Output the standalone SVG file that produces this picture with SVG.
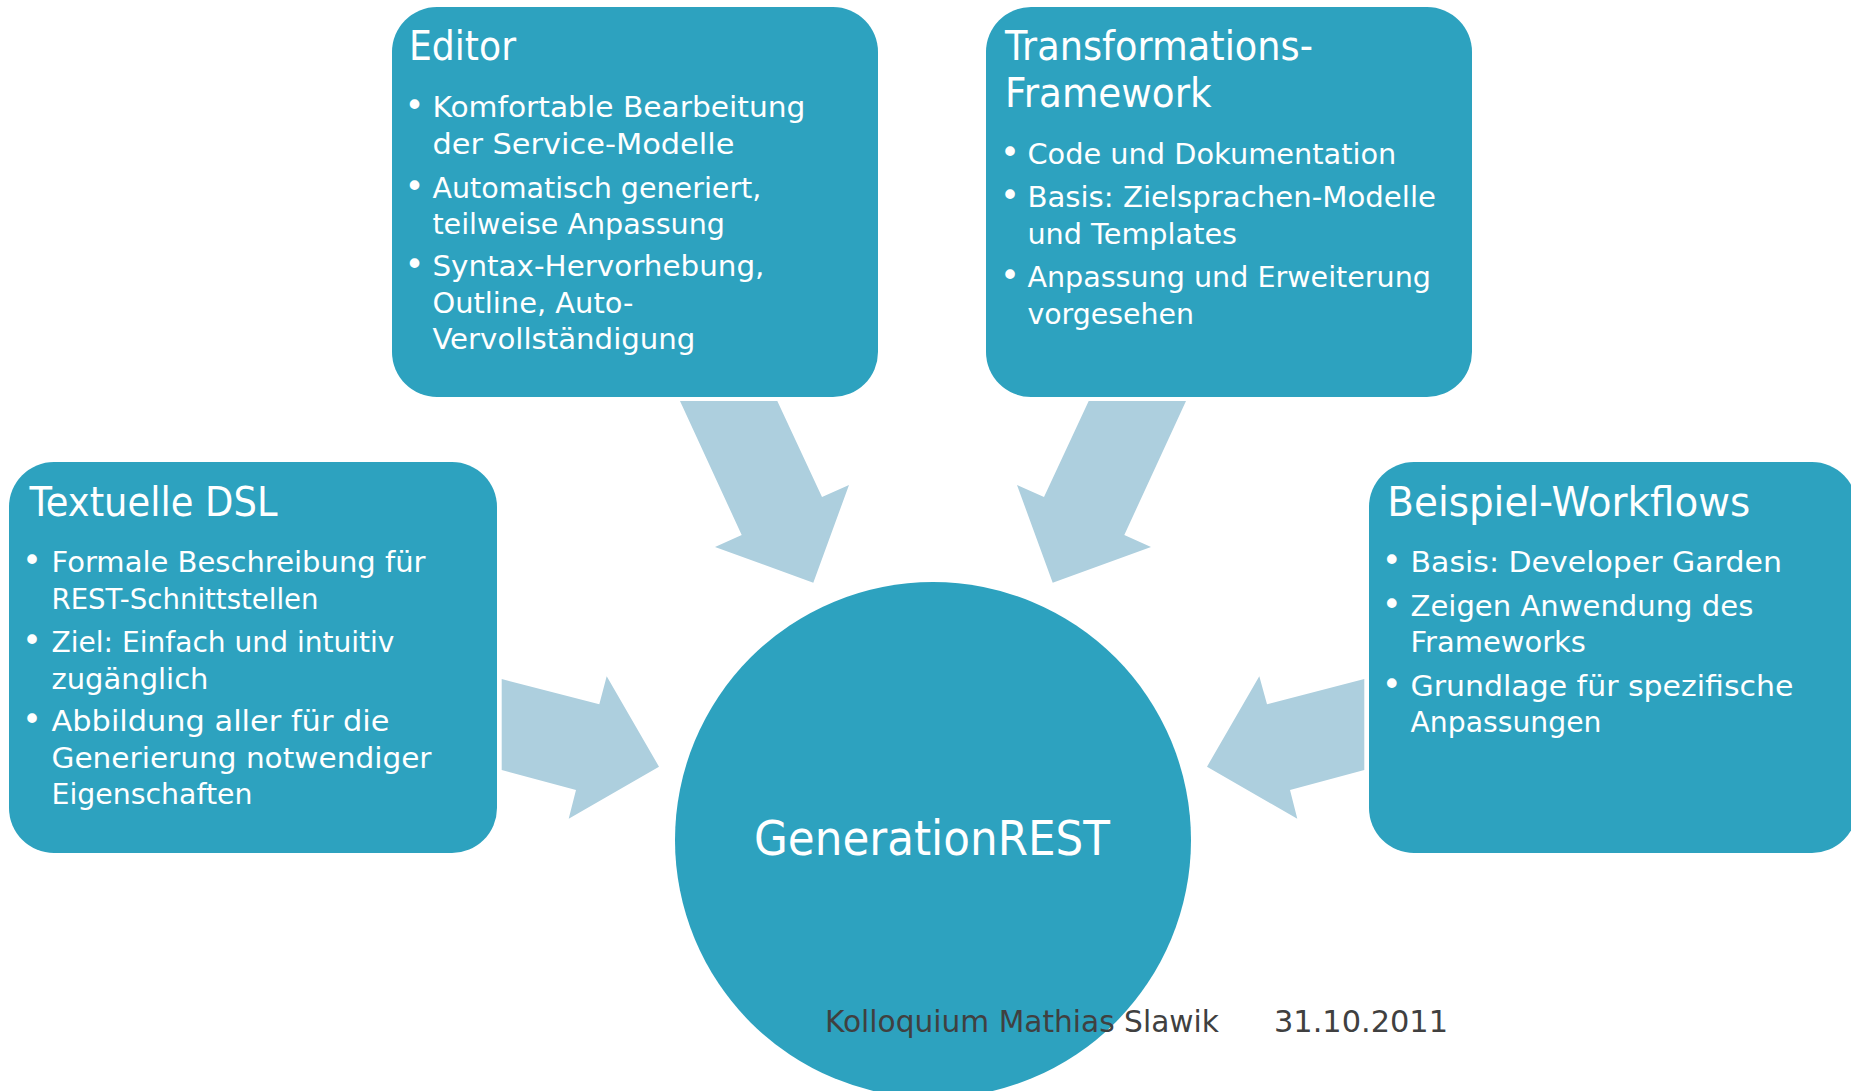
<svg xmlns="http://www.w3.org/2000/svg" width="1851" height="1091" viewBox="0 0 1851 1091">
  <style>
    .box { fill: #2da2bf; }
    .arrow { fill: #adcfde; }
    .t { font-family: "DejaVu Sans", "Liberation Sans", sans-serif; fill: #ffffff; }
    .title { font-size: 40px; }
    .item { font-size: 28.5px; }
    .dot { font-size: 33px; text-anchor: middle; }
    .hub { font-size: 48px; }
    .foot { font-family: "DejaVu Sans", "Liberation Sans", sans-serif; font-size: 31px; fill: #404040; }
  </style>

  <rect width="1851" height="1091" fill="#ffffff"/>

  <!-- block arrows pointing into the hub -->
  <g id="connectors">
    <polygon class="arrow" points="680,401 777.3,401 822,497 849,485 813.3,582.7 715,547 741.7,535"/>
    <polygon class="arrow" points="1186,401 1088.7,401 1044,497 1017,485 1052.7,582.7 1151,547 1124.3,535"/>
    <polygon class="arrow" points="501.7,679 599.3,704.3 606.7,676.3 659,766.7 568.7,818.7 576,790 501.7,770"/>
    <polygon class="arrow" points="1364.3,679 1267,704.3 1259.3,676.3 1207,766.7 1297.3,818.7 1290,790 1364.3,770"/>
  </g>

  <g id="editor">
    <rect class="box" x="392" y="7" width="486" height="390" rx="45"/>
    <text class="t title" x="409" y="60" textLength="107" lengthAdjust="spacingAndGlyphs">Editor</text>
    <text class="t dot" x="414.5" y="117">•</text>
    <text class="t item" x="432.4" y="117" textLength="373" lengthAdjust="spacingAndGlyphs">Komfortable Bearbeitung</text>
    <text class="t item" x="432.4" y="154" textLength="302" lengthAdjust="spacingAndGlyphs">der Service-Modelle</text>
    <text class="t dot" x="414.5" y="197.5">•</text>
    <text class="t item" x="432.4" y="197.5" textLength="329" lengthAdjust="spacingAndGlyphs">Automatisch generiert,</text>
    <text class="t item" x="432.4" y="233.5" textLength="292.5" lengthAdjust="spacingAndGlyphs">teilweise Anpassung</text>
    <text class="t dot" x="414.5" y="276">•</text>
    <text class="t item" x="432.4" y="276" textLength="332" lengthAdjust="spacingAndGlyphs">Syntax-Hervorhebung,</text>
    <text class="t item" x="432.4" y="312.5" textLength="201" lengthAdjust="spacingAndGlyphs">Outline, Auto-</text>
    <text class="t item" x="432.4" y="349" textLength="263" lengthAdjust="spacingAndGlyphs">Vervollständigung</text>
  </g>

  <g id="transformations-framework">
    <rect class="box" x="986" y="7" width="486" height="390" rx="45"/>
    <text class="t title" x="1005" y="60" textLength="308" lengthAdjust="spacingAndGlyphs">Transformations-</text>
    <text class="t title" x="1005" y="107.3" textLength="206.6" lengthAdjust="spacingAndGlyphs">Framework</text>
    <text class="t dot" x="1009.9" y="163.5">•</text>
    <text class="t item" x="1027.4" y="163.5" textLength="369" lengthAdjust="spacingAndGlyphs">Code und Dokumentation</text>
    <text class="t dot" x="1009.9" y="207">•</text>
    <text class="t item" x="1027.4" y="207" textLength="408.6" lengthAdjust="spacingAndGlyphs">Basis: Zielsprachen-Modelle</text>
    <text class="t item" x="1027.4" y="243.5" textLength="209.6" lengthAdjust="spacingAndGlyphs">und Templates</text>
    <text class="t dot" x="1009.9" y="287">•</text>
    <text class="t item" x="1027.4" y="287" textLength="403.6" lengthAdjust="spacingAndGlyphs">Anpassung und Erweiterung</text>
    <text class="t item" x="1027.4" y="323.5" textLength="166.6" lengthAdjust="spacingAndGlyphs">vorgesehen</text>
  </g>

  <g id="textuelle-dsl">
    <rect class="box" x="9" y="462" width="488" height="391" rx="45"/>
    <text class="t title" x="29.5" y="515.7" textLength="248" lengthAdjust="spacingAndGlyphs">Textuelle DSL</text>
    <text class="t dot" x="32" y="572">•</text>
    <text class="t item" x="51.5" y="572" textLength="374" lengthAdjust="spacingAndGlyphs">Formale Beschreibung für</text>
    <text class="t item" x="51.5" y="608.5" textLength="267" lengthAdjust="spacingAndGlyphs">REST-Schnittstellen</text>
    <text class="t dot" x="32" y="652">•</text>
    <text class="t item" x="51.5" y="652" textLength="343" lengthAdjust="spacingAndGlyphs">Ziel: Einfach und intuitiv</text>
    <text class="t item" x="51.5" y="688.5" textLength="157" lengthAdjust="spacingAndGlyphs">zugänglich</text>
    <text class="t dot" x="32" y="731">•</text>
    <text class="t item" x="51.5" y="731" textLength="338" lengthAdjust="spacingAndGlyphs">Abbildung aller für die</text>
    <text class="t item" x="51.5" y="767.5" textLength="380" lengthAdjust="spacingAndGlyphs">Generierung notwendiger</text>
    <text class="t item" x="51.5" y="804" textLength="201" lengthAdjust="spacingAndGlyphs">Eigenschaften</text>
  </g>

  <g id="beispiel-workflows">
    <rect class="box" x="1369" y="462" width="488" height="391" rx="45"/>
    <text class="t title" x="1387.3" y="515.7" textLength="363" lengthAdjust="spacingAndGlyphs">Beispiel-Workflows</text>
    <text class="t dot" x="1391.7" y="572">•</text>
    <text class="t item" x="1410.5" y="572" textLength="371.4" lengthAdjust="spacingAndGlyphs">Basis: Developer Garden</text>
    <text class="t dot" x="1391.7" y="615.5">•</text>
    <text class="t item" x="1410.5" y="615.5" textLength="342.8" lengthAdjust="spacingAndGlyphs">Zeigen Anwendung des</text>
    <text class="t item" x="1410.5" y="652" textLength="175.4" lengthAdjust="spacingAndGlyphs">Frameworks</text>
    <text class="t dot" x="1391.7" y="695.5">•</text>
    <text class="t item" x="1410.5" y="695.5" textLength="382.9" lengthAdjust="spacingAndGlyphs">Grundlage für spezifische</text>
    <text class="t item" x="1410.5" y="732" textLength="191" lengthAdjust="spacingAndGlyphs">Anpassungen</text>
  </g>

  <g id="generationrest">
    <circle class="box" cx="933" cy="840" r="258"/>
    <text class="t hub" x="754" y="855" textLength="356" lengthAdjust="spacingAndGlyphs">GenerationREST</text>
  </g>

  <!-- slide footer -->
  <g id="footer">
    <text class="foot" x="825" y="1031.7" textLength="394" lengthAdjust="spacingAndGlyphs">Kolloquium Mathias Slawik</text>
    <text class="foot" x="1274" y="1031.7" textLength="174" lengthAdjust="spacingAndGlyphs">31.10.2011</text>
  </g>
</svg>
